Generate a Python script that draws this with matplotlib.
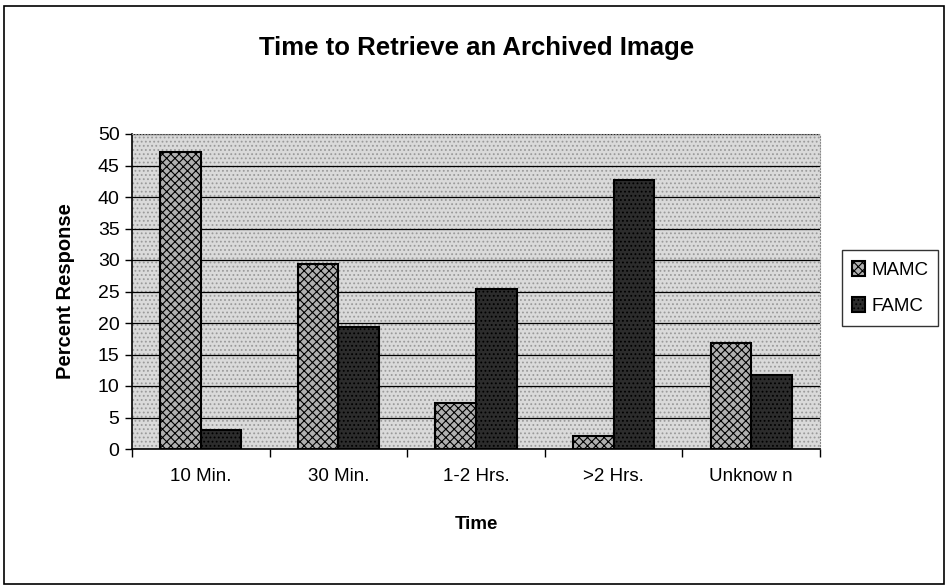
import numpy as np
import matplotlib
matplotlib.use("Agg")
import matplotlib.pyplot as plt
import matplotlib.patches as mpatches

plt.rcParams.update({
    "font.family": ["Liberation Sans", "DejaVu Sans"],
    "font.size": 13.5,
    "hatch.linewidth": 0.8,
})

# data
categories = ["10 Min.", "30 Min.", "1-2 Hrs.", ">2 Hrs.", "Unknow n"]
mamc = [47.2, 29.4, 7.3, 2.1, 16.8]
famc = [3.0, 19.3, 25.4, 42.7, 11.7]
series_names = ["MAMC", "FAMC"]
y_ticks = [0, 5, 10, 15, 20, 25, 30, 35, 40, 45, 50]

W, H = 948, 587
fig = plt.figure(figsize=(W / 100, H / 100), dpi=100)
ax = fig.add_axes([132 / W, 1 - 449 / H, (820 - 132) / W, (449 - 134) / H])

# stippled grey plot background
ax.set_facecolor("#dadada")
ax.add_patch(mpatches.Rectangle((0, 0), 1, 1, transform=ax.transAxes,
                                facecolor="none", edgecolor="#9a9a9a",
                                hatch="....", linewidth=0, zorder=0))

x = np.arange(len(categories))
bw = 0.295

ax.set_axisbelow(True)
ax.yaxis.grid(True, color="black", linewidth=0.9)

ax.bar(x - bw / 2, mamc, bw, color="#b0b0b0", edgecolor="black",
       linewidth=1.5, hatch="xxxx", zorder=3, label=series_names[0])
ax.bar(x + bw / 2, famc, bw, color="#2c2c2c", edgecolor="black",
       linewidth=1.5, hatch="....", zorder=3, label=series_names[1])

ax.set_xlim(-0.5, len(categories) - 0.5)
ax.set_ylim(0, 50)
ax.set_yticks(y_ticks)
ax.set_xticks(x)
ax.set_xticklabels(categories)
ax.set_xticks(np.arange(-0.5, len(categories)), minor=True)
ax.tick_params(axis="x", which="major", length=0, pad=14)
ax.tick_params(axis="x", which="minor", length=6, direction="out", width=1)
ax.tick_params(axis="y", length=5, width=1, pad=4, labelsize=14)

for s in ["top", "right"]:
    ax.spines[s].set_color("#888888")
    ax.spines[s].set_linewidth(0.8)
    ax.spines[s].set_linestyle(":")
for s in ["left", "bottom"]:
    ax.spines[s].set_linewidth(1.2)

ax.set_xlabel("Time", fontweight="bold", labelpad=22)
ax.set_ylabel("Percent Response", fontweight="bold", labelpad=16,
              fontsize=14.5)

fig.text(477 / W, 1 - 48 / H, "Time to Retrieve an Archived Image",
         ha="center", va="center", fontsize=18.5, fontweight="bold")

leg = fig.legend(loc="center left", bbox_to_anchor=(842 / W, 1 - 288 / H),
                 frameon=True, fancybox=False, edgecolor="black",
                 handlelength=0.65, handleheight=0.85, handletextpad=0.35,
                 labelspacing=1.0, borderpad=0.55, borderaxespad=0,
                 fontsize=13.5)
leg.get_frame().set_linewidth(1.0)

# outer frame of the chart area
fig.add_artist(mpatches.Rectangle((4 / W, 3 / H), 940 / W, 578 / H,
                                  transform=fig.transFigure, fill=False,
                                  edgecolor="black", linewidth=1.2))

fig.savefig("out.png", dpi=100)
